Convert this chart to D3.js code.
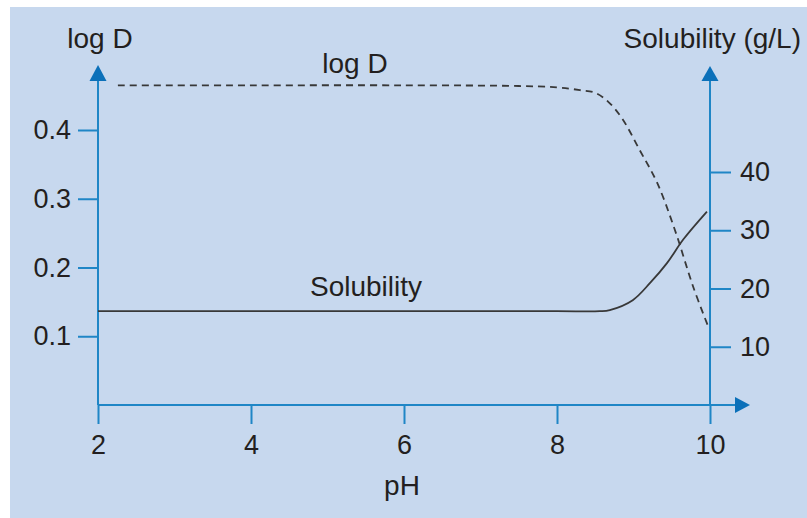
<!DOCTYPE html>
<html>
<head>
<meta charset="utf-8">
<script src="https://cdn.jsdelivr.net/npm/d3@7/dist/d3.min.js"></script>
<style>
  html, body { margin: 0; padding: 0; background: #ffffff; }
  svg { display: block; }
  text { font-family: "Liberation Sans", Arial, Helvetica, sans-serif; fill: #231f20; }
</style>
</head>
<body>
<script>
// pH values and the two measured curves
const logDpH   = [2.26, 4, 6, 7.5, 8.0, 8.3, 8.5, 8.67, 8.85, 9.08, 9.31, 9.54, 9.78, 9.97];
const logDVals = [0.465, 0.465, 0.465, 0.464, 0.462, 0.458, 0.454, 0.441, 0.417, 0.371, 0.323, 0.255, 0.172, 0.116];

const solPH    = [2, 4, 6, 8, 8.56, 8.69, 8.99, 9.22, 9.44, 9.65, 9.96];
const solVals  = [16.1, 16.1, 16.1, 16.1, 16.1, 16.3, 18.0, 21.0, 24.4, 28.4, 33.2];

const pHTicks   = [2, 4, 6, 8, 10];
const logDTicks = [0.1, 0.2, 0.3, 0.4];
const solTicks  = [10, 20, 30, 40];

const W = 807, H = 518;
const axisColor = "#1f86c6";
const arrowColor = "#0b70b9";
const lineColor = "#383838";

const svg = d3.select("body").append("svg").attr("width", W).attr("height", H);

// panel background
svg.append("rect").attr("x", 10).attr("y", 7).attr("width", W - 10).attr("height", H - 7)
  .attr("fill", "#c7d8ee");

const x = d3.scaleLinear().domain([2, 10]).range([98, 710]);
const yL = d3.scaleLinear().domain([0, 0.4]).range([405, 130]);
const yR = d3.scaleLinear().domain([0, 40]).range([405, 172]);

const tickFont = 27;
const labelFont = 28;

// axis lines
const axes = svg.append("g").attr("stroke", axisColor).attr("stroke-width", 2).attr("fill", "none");
axes.append("line").attr("x1", x(2)).attr("x2", x(2)).attr("y1", 80).attr("y2", 405);
axes.append("line").attr("x1", x(10)).attr("x2", x(10)).attr("y1", 80).attr("y2", 405);
axes.append("line").attr("x1", x(2)).attr("x2", 737).attr("y1", 405).attr("y2", 405);

// arrowheads
const arrows = svg.append("g").attr("fill", arrowColor);
arrows.append("path").attr("d", `M${x(2)},65 L${x(2) - 8.5},81 L${x(2) + 8.5},81 Z`);
arrows.append("path").attr("d", `M${x(10)},66 L${x(10) - 8.5},81 L${x(10) + 8.5},81 Z`);
arrows.append("path").attr("d", `M750,405 L735,397 L735,413 Z`);

function styleAxis(g) {
  g.select(".domain").remove();
  g.selectAll(".tick line").attr("stroke", axisColor).attr("stroke-width", 2);
  g.selectAll(".tick text").attr("font-size", tickFont).attr("fill", "#231f20")
    .attr("font-family", "Liberation Sans, Arial, sans-serif");
}

svg.append("g").attr("transform", `translate(${x(2)},0)`)
  .call(d3.axisLeft(yL).tickValues(logDTicks).tickSize(20).tickPadding(7).tickFormat(d3.format(".1f")))
  .call(styleAxis);

svg.append("g").attr("transform", `translate(${x(10)},0)`)
  .call(d3.axisRight(yR).tickValues(solTicks).tickSize(21).tickPadding(9).tickFormat(d3.format("d")))
  .call(styleAxis);

svg.append("g").attr("transform", `translate(0,405)`)
  .call(d3.axisBottom(x).tickValues(pHTicks).tickSize(19).tickPadding(11).tickFormat(d3.format("d")))
  .call(styleAxis);

// curves
const logDData = logDpH.map((p, i) => [p, logDVals[i]]);
const solData = solPH.map((p, i) => [p, solVals[i]]);

svg.append("path")
  .datum(logDData)
  .attr("d", d3.line().x(d => x(d[0])).y(d => yL(d[1])).curve(d3.curveCatmullRom.alpha(0.5)))
  .attr("fill", "none").attr("stroke", lineColor).attr("stroke-width", 1.8)
  .attr("stroke-dasharray", "7,5");

svg.append("path")
  .datum(solData)
  .attr("d", d3.line().x(d => x(d[0])).y(d => yR(d[1])).curve(d3.curveCatmullRom.alpha(0.5)))
  .attr("fill", "none").attr("stroke", lineColor).attr("stroke-width", 1.8);

// titles and labels
svg.append("text").attr("x", 100).attr("y", 48).attr("text-anchor", "middle")
  .attr("font-size", labelFont).text("log D");
svg.append("text").attr("x", 801).attr("y", 48).attr("text-anchor", "end")
  .attr("font-size", labelFont).text("Solubility (g/L)");
svg.append("text").attr("x", 355).attr("y", 73).attr("text-anchor", "middle")
  .attr("font-size", labelFont).text("log D");
svg.append("text").attr("x", 366).attr("y", 296).attr("text-anchor", "middle")
  .attr("font-size", labelFont).text("Solubility");
svg.append("text").attr("x", 402).attr("y", 495).attr("text-anchor", "middle")
  .attr("font-size", labelFont).text("pH");
</script>
</body>
</html>
